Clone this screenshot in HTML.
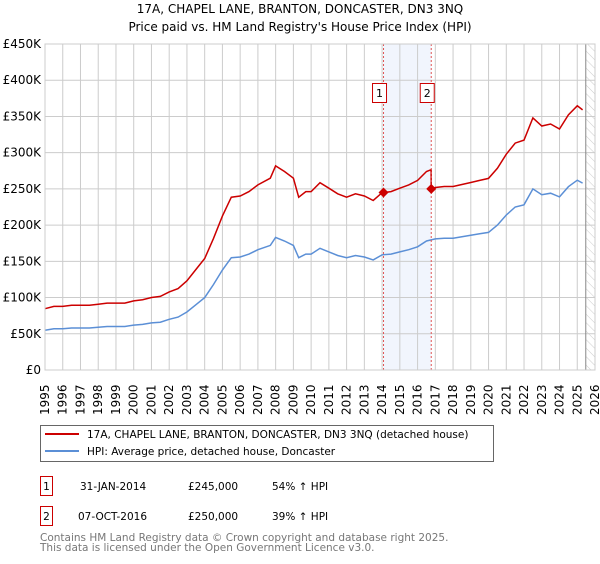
<!DOCTYPE html>
<html><head><meta charset="utf-8"><style>
body{margin:0;background:#fff;width:600px;height:560px;overflow:hidden;font-family:"DejaVu Sans","Liberation Sans",sans-serif}
</style></head><body>
<svg width="600" height="560" xmlns="http://www.w3.org/2000/svg" font-family="DejaVu Sans, Liberation Sans, sans-serif">
<defs><pattern id="hatch" width="6" height="6" patternUnits="userSpaceOnUse" patternTransform="rotate(-45)"><line x1="0" y1="0" x2="0" y2="6" stroke="#ccc" stroke-width="1"/></pattern></defs>
<text x="300" y="13" text-anchor="middle" font-size="12">17A, CHAPEL LANE, BRANTON, DONCASTER, DN3 3NQ</text>
<text x="300" y="31" text-anchor="middle" font-size="12">Price paid vs. HM Land Registry's House Price Index (HPI)</text>
<g id="plot"></g>
<g>
<rect x="40.5" y="425.5" width="453" height="36" fill="#fff" stroke="#666"/>
<line x1="45" y1="434" x2="79" y2="434" stroke="#cc0000" stroke-width="2"/>
<text x="87" y="438" font-size="10.5">17A, CHAPEL LANE, BRANTON, DONCASTER, DN3 3NQ (detached house)</text>
<line x1="45" y1="451" x2="79" y2="451" stroke="#5b8fd6" stroke-width="2"/>
<text x="87" y="455" font-size="10.5">HPI: Average price, detached house, Doncaster</text>
</g>
<g font-size="10.5">
<rect x="40.5" y="476.5" width="12" height="19" fill="#fff" stroke="#cc0000"/><text x="46.5" y="490" text-anchor="middle">1</text>
<text x="80" y="490">31-JAN-2014</text><text x="188" y="490">£245,000</text><text x="272" y="490">54% ↑ HPI</text>
<rect x="40.5" y="506.5" width="12" height="19" fill="#fff" stroke="#cc0000"/><text x="46.5" y="520" text-anchor="middle">2</text>
<text x="78" y="520">07-OCT-2016</text><text x="188" y="520">£250,000</text><text x="272" y="520">39% ↑ HPI</text>
</g>
<text x="40" y="541" font-size="10.5" fill="#777">Contains HM Land Registry data © Crown copyright and database right 2025.</text>
<text x="40" y="551" font-size="10.5" fill="#777">This data is licensed under the Open Government Licence v3.0.</text>
</svg>
<script>
const hpiYears=[1995,1995.5,1996,1996.5,1997,1997.5,1998,1998.5,1999,1999.5,2000,2000.5,2001,2001.5,2002,2002.5,2003,2003.5,2004,2004.5,2005,2005.5,2006,2006.5,2007,2007.7,2008,2008.5,2009,2009.3,2009.7,2010,2010.5,2011,2011.5,2012,2012.5,2013,2013.5,2014,2014.5,2015,2015.5,2016,2016.5,2017,2017.5,2018,2018.5,2019,2019.5,2020,2020.5,2021,2021.5,2022,2022.5,2023,2023.5,2024,2024.5,2025,2025.3];
const hpiValues=[55,57,57,58,58,58,59,60,60,60,62,63,65,66,70,73,80,90,100,118,138,155,156,160,166,172,183,178,172,155,160,160,168,163,158,155,158,156,152,159,160,163,166,170,178,181,182,182,184,186,188,190,200,214,225,228,250,242,244,239,253,262,258];
const saleLabels=["1","2"];
const saleYears=[2014.08,2016.77];
const salePrices=[245,250];
const yTicks=[0,50,100,150,200,250,300,350,400,450];
const yTickLabels=["£0","£50K","£100K","£150K","£200K","£250K","£300K","£350K","£400K","£450K"];
const xTicks=[1995,1996,1997,1998,1999,2000,2001,2002,2003,2004,2005,2006,2007,2008,2009,2010,2011,2012,2013,2014,2015,2016,2017,2018,2019,2020,2021,2022,2023,2024,2025,2026];
const dataEnd=2025.48;

const NS="http://www.w3.org/2000/svg";
const X0=45,X1=595,Y0=370,Y1=44;
const xs=y=>X0+(y-1995)/(2026-1995)*(X1-X0);
const ys=v=>Y0-v/450*(Y0-Y1);
const plot=document.getElementById('plot');
function mk(tag,attrs,parent){const e=document.createElementNS(NS,tag);for(const k in attrs)e.setAttribute(k,attrs[k]);(parent||plot).appendChild(e);return e;}
function hpiAt(t){for(let i=1;i<hpiYears.length;i++){if(t<=hpiYears[i]){const f=(t-hpiYears[i-1])/(hpiYears[i]-hpiYears[i-1]);return hpiValues[i-1]+f*(hpiValues[i]-hpiValues[i-1]);}}return hpiValues[hpiValues.length-1];}
const band=mk('rect',{x:xs(saleYears[0]),y:Y1,width:xs(saleYears[1])-xs(saleYears[0]),height:Y0-Y1,fill:'#eef3fc',opacity:0.8});


const hat=mk('rect',{x:xs(dataEnd),y:Y1,width:X1-xs(dataEnd),height:Y0-Y1,fill:'url(#hatch)'});


yTicks.forEach((v,i)=>{
 const l=mk('line',{x1:X0,x2:X1,y1:ys(v),y2:ys(v),stroke:'#ccc','stroke-width':1});
 
 
 const t=mk('text',{x:X0-4,y:ys(v)+4,'text-anchor':'end','font-size':12});
 
 
 t.textContent=yTickLabels[i];
});
xTicks.forEach(yr=>{
 const l=mk('line',{x1:xs(yr),x2:xs(yr),y1:Y1,y2:Y0,stroke:'#ccc','stroke-width':1});
 
 
 const t=mk('text',{x:0,y:0,'font-size':12,transform:`translate(${xs(yr)+4},415) rotate(-90)`});
 
 
 t.textContent=yr;
});
const el=mk('line',{x1:xs(dataEnd),x2:xs(dataEnd),y1:Y1,y2:Y0,stroke:'#888','stroke-width':1});


const hp=mk('path',{d:hpiYears.map((t,i)=>(i?'L':'M')+xs(t).toFixed(1)+','+ys(hpiValues[i]).toFixed(1)).join(''),fill:'none',stroke:'#5b8fd6','stroke-width':1.5});


const r1=salePrices[0]/hpiAt(saleYears[0]),r2=salePrices[1]/hpiAt(saleYears[1]);
let pts=[];
hpiYears.forEach((t,i)=>{if(t<saleYears[1])pts.push([t,hpiValues[i]*r1]);});
pts.push([saleYears[1]-0.01,hpiAt(saleYears[1])*r1]);
pts.push([saleYears[1],salePrices[1]]);
hpiYears.forEach((t,i)=>{if(t>saleYears[1])pts.push([t,hpiValues[i]*r2]);});
const rp=mk('path',{d:pts.map((p,i)=>(i?'L':'M')+xs(p[0]).toFixed(1)+','+ys(p[1]).toFixed(1)).join(''),fill:'none',stroke:'#cc0000','stroke-width':1.5});


saleYears.forEach((t,i)=>{
 const v=mk('line',{x1:xs(t),x2:xs(t),y1:Y1,y2:Y0,stroke:'#e05555','stroke-width':1,'stroke-dasharray':'2,2'});
 
 
 const x=xs(t),y=ys(salePrices[i]);
 const d=mk('path',{d:`M${x},${y-5}L${x+5},${y}L${x},${y+5}L${x-5},${y}Z`,fill:'#cc0000'});
 
 
 const b=mk('rect',{x:x-11,y:83.5,width:14,height:19,fill:'#fff',stroke:'#cc0000'});
 
 
 const tx=mk('text',{x:x-4,y:97,'text-anchor':'middle','font-size':11});
 
 
 tx.textContent=saleLabels[i];
});
const fr=mk('rect',{x:X0,y:Y1,width:X1-X0,height:Y0-Y1,fill:'none',stroke:'#ccc'});


</script>
</body></html>
